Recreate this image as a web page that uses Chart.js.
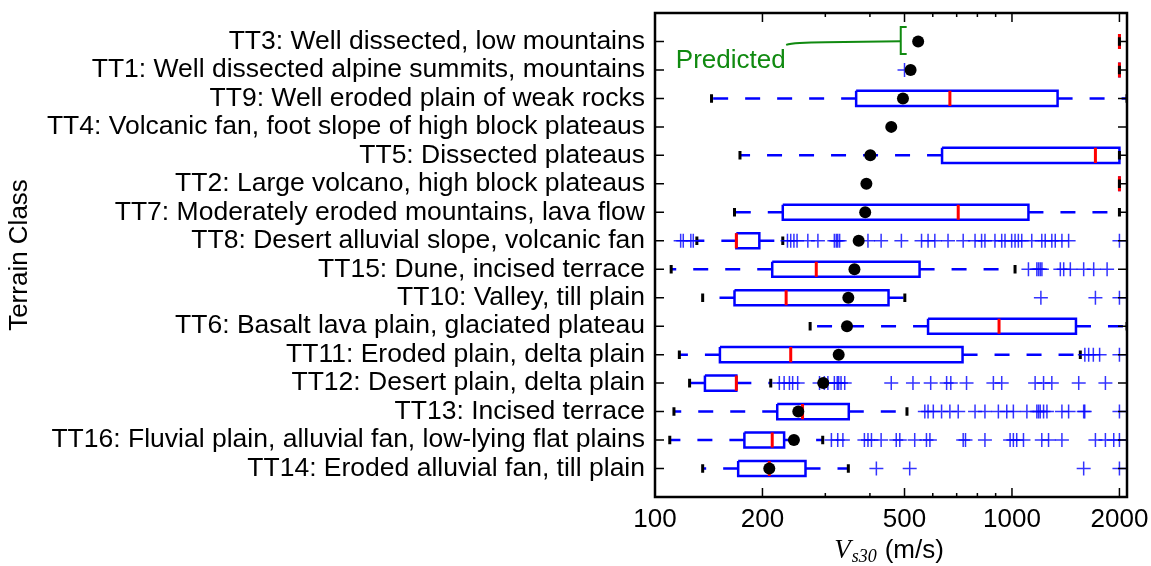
<!DOCTYPE html>
<html><head><meta charset="utf-8">
<script src="https://cdn.jsdelivr.net/npm/chart.js@4/dist/chart.umd.min.js"></script>
<style>html,body{margin:0;padding:0;background:#fff}#wrap{width:1151px;height:566px;position:relative}</style>
</head><body><div id="wrap"><canvas id="c" width="1151" height="566"></canvas></div>
<script>
// ---- data (top row first) ----
const categories = [
  "TT3: Well dissected, low mountains",
  "TT1: Well dissected alpine summits, mountains",
  "TT9: Well eroded plain of weak rocks",
  "TT4: Volcanic fan, foot slope of high block plateaus",
  "TT5: Dissected plateaus",
  "TT2: Large volcano, high block plateaus",
  "TT7: Moderately eroded mountains, lava flow",
  "TT8: Desert alluvial slope, volcanic fan",
  "TT15: Dune, incised terrace",
  "TT10: Valley, till plain",
  "TT6: Basalt lava plain, glaciated plateau",
  "TT11: Eroded plain, delta plain",
  "TT12: Desert plain, delta plain",
  "TT13: Incised terrace",
  "TT16: Fluvial plain, alluvial fan, low-lying flat plains",
  "TT14: Eroded alluvial fan, till plain"
];
const whiskerLow  = [2000, 2000, 144, null, 173, 2000, 167, 131, 111, 136, 272, 117, 125, 113, 110, 136];
const q1          = [2000, 2000, 366, null, 637, 2000, 228, 169, 213, 167, 582, 152, 138, 220, 178, 171];
const median      = [2000, 2000, 670, null, 1713, 2000, 707, 169, 283, 233, 920, 240, 169, 259, 213, 209];
const q3          = [2000, 2000, 1342, null, 2000, 2000, 1112, 196, 551, 451, 1511, 727, 169, 349, 230, 264];
const whiskerHigh = [2000, 2000, 2100, null, 2000, 2000, 2000, 228, 1020, 501, 2100, 1554, 211, 508, 295, 348];
const predicted   = [546, 520, 495, 459, 401, 391, 388, 372, 362, 348, 345, 327, 296, 252, 245, 209];
const outliers = [
  [],
  [500],
  [],
  [],
  [],
  [],
  [],
  [118, 120, 126, 128, 235, 240, 245, 250, 268, 286, 318, 322, 325, 329, 395, 430, 490, 558, 582, 608, 662, 730, 788, 822, 840, 896, 936, 956, 998, 1020, 1042, 1065, 1136, 1212, 1239, 1293, 1322, 1380, 1441, 2000],
  [1112, 1174, 1187, 1200, 1213, 1366, 1396, 1457, 1588, 1694, 1847],
  [1205, 1713, 2000],
  [],
  [1600, 1640, 1690, 1760, 2000],
  [223, 230, 238, 243, 251, 289, 298, 305, 318, 324, 327, 332, 340, 459, 528, 592, 656, 674, 746, 887, 936, 1161, 1226, 1293, 1538, 1827],
  [570, 582, 602, 635, 670, 707, 788, 840, 916, 967, 1009, 1101, 1174, 1187, 1200, 1226, 1253, 1380, 1441, 1588, 1599, 2000],
  [312, 325, 336, 386, 395, 404, 430, 474, 485, 534, 576, 589, 730, 741, 840, 988, 1009, 1031, 1077, 1212, 1266, 1380, 1713, 1827, 1928, 2000],
  [417, 517, 1588, 2000]
];
const xTickLabels = [100, 200, 500, 1000, 2000];
const xMinorTicks = [300, 400, 600, 700, 800, 900];
const xMin = 100, xMax = 2100;

// ---- build library datasets ----
const BH = 0.265, CH = 0.15;
const boxPts = [], whiskPts = [], medPts = [], capPts = [], outPts = [], predPts = [];
const gap = {x: 1000, y: NaN};
categories.forEach((c, i) => {
  if (q1[i] != null) {
    boxPts.push({x:q1[i],y:i-BH},{x:q3[i],y:i-BH},{x:q3[i],y:i+BH},{x:q1[i],y:i+BH},{x:q1[i],y:i-BH},gap);
    whiskPts.push({x:q1[i],y:i},{x:whiskerLow[i],y:i},gap,{x:q3[i],y:i},{x:whiskerHigh[i],y:i},gap);
    medPts.push({x:median[i],y:i-BH},{x:median[i],y:i+BH},gap);
    capPts.push({x:whiskerLow[i],y:i-CH},{x:whiskerLow[i],y:i+CH},gap,{x:whiskerHigh[i],y:i-CH},{x:whiskerHigh[i],y:i+CH},gap);
  }
  outliers[i].forEach(v => outPts.push({x:v, y:i}));
  predPts.push({x:predicted[i], y:i});
});

Chart.defaults.font.family = '"Liberation Sans", Arial, sans-serif';
Chart.defaults.color = '#000';

const noPad = s => { s.paddingTop = 0; s.paddingBottom = 0; s.paddingLeft = 0; s.paddingRight = 0; };

const frameTicks = {
  id: 'frameTicks',
  afterDraw(chart) {
    const {ctx, chartArea: a, scales: {x, y}} = chart;
    ctx.save();
    ctx.strokeStyle = '#000';
    ctx.lineWidth = 1.5;
    const tick = (v, len) => {
      const px = x.getPixelForValue(v);
      ctx.beginPath(); ctx.moveTo(px, a.bottom); ctx.lineTo(px, a.bottom - len);
      ctx.moveTo(px, a.top); ctx.lineTo(px, a.top + len); ctx.stroke();
    };
    xTickLabels.forEach(v => tick(v, 9));
    xMinorTicks.forEach(v => tick(v, 4));
    categories.forEach((c, i) => {
      const py = y.getPixelForValue(i);
      ctx.beginPath(); ctx.moveTo(a.left, py); ctx.lineTo(a.left + 9, py);
      ctx.moveTo(a.right, py); ctx.lineTo(a.right - 9, py); ctx.stroke();
    });
    ctx.lineWidth = 2.5;
    ctx.strokeRect(a.left, a.top, a.right - a.left, a.bottom - a.top);

    // x axis title: V_s30 (m/s)
    ctx.fillStyle = '#000';
    ctx.textBaseline = 'alphabetic';
    ctx.textAlign = 'left';
    const fV = 'italic 27px "Liberation Serif", serif';
    const fS = 'italic 18px "Liberation Serif", serif';
    const fU = '26px "Liberation Sans", Arial, sans-serif';
    ctx.font = fV; const wV = ctx.measureText('V').width;
    ctx.font = fS; const wS = ctx.measureText('s30').width;
    ctx.font = fU; const wU = ctx.measureText('(m/s)').width;
    const total = wV + 1 + wS + 8 + wU;
    let x0 = (a.left + a.right) / 2 - total / 2 - 2;
    const base = 558;
    ctx.font = fV; ctx.fillText('V', x0, base); x0 += wV + 1;
    ctx.font = fS; ctx.fillText('s30', x0, base + 4); x0 += wS + 8;
    ctx.font = fU; ctx.fillText('(m/s)', x0, base);

    // "Predicted" annotation
    const green = '#108a10';
    ctx.strokeStyle = green; ctx.fillStyle = green; ctx.lineWidth = 2;
    const xb = x.getPixelForValue(488), xt = x.getPixelForValue(507);
    const yb1 = y.getPixelForValue(-0.51), yb2 = y.getPixelForValue(0.44), ym = y.getPixelForValue(-0.01);
    ctx.beginPath();
    ctx.moveTo(xt, yb1); ctx.lineTo(xb, yb1); ctx.lineTo(xb, yb2); ctx.lineTo(xt, yb2);
    ctx.stroke();
    const xe = x.getPixelForValue(233), ye = y.getPixelForValue(0.12);
    ctx.beginPath();
    ctx.moveTo(xb, ym);
    ctx.lineTo(x.getPixelForValue(300), ym + 1);
    ctx.quadraticCurveTo(x.getPixelForValue(245), ym + 1, xe, ye);
    ctx.stroke();
    ctx.font = fU; ctx.textBaseline = 'middle';
    ctx.fillText('Predicted', x.getPixelForValue(114.4), y.getPixelForValue(0.67));
    ctx.restore();
  }
};

new Chart(document.getElementById('c'), {
  type: 'scatter',
  data: {
    datasets: [
      {label: 'Predicted', data: predPts, order: 0, pointStyle: 'circle', pointRadius: 6, backgroundColor: '#000', borderWidth: 0},
      {label: 'Outliers', data: outPts, order: 1, pointStyle: 'cross', pointRadius: 7, borderColor: 'rgba(0,0,255,0.8)', borderWidth: 1.5},
      {label: 'Caps', data: capPts, order: 2, showLine: true, spanGaps: false, pointRadius: 0, borderColor: '#000', borderWidth: 3},
      {label: 'Median', data: medPts, order: 3, showLine: true, spanGaps: false, pointRadius: 0, borderColor: '#ff0000', borderWidth: 3},
      {label: 'Box', data: boxPts, order: 4, showLine: true, spanGaps: false, pointRadius: 0, borderColor: '#0000ff', borderWidth: 2.5},
      {label: 'Whiskers', data: whiskPts, order: 5, showLine: true, spanGaps: false, pointRadius: 0, borderColor: '#0000ff', borderWidth: 2.5, borderDash: [15, 17]}
    ]
  },
  options: {
    responsive: false,
    devicePixelRatio: 1,
    animation: false,
    layout: {padding: {top: 13, right: 24, bottom: 0, left: 0}},
    plugins: {legend: {display: false}, tooltip: {enabled: false}},
    scales: {
      x: {
        type: 'logarithmic', min: xMin, max: xMax, position: 'bottom',
        grid: {display: false, drawTicks: false}, border: {display: false},
        afterBuildTicks: s => { s.ticks = xTickLabels.map(v => ({value: v})); },
        afterFit: s => { s.height = 69; noPad(s); },
        ticks: {autoSkip: false, maxRotation: 0, padding: 7, font: {size: 26}, callback: v => String(v)}
      },
      y: {
        type: 'linear', min: -1, max: 16, reverse: true,
        grid: {display: false, drawTicks: false}, border: {display: false},
        afterBuildTicks: s => { s.ticks = categories.map((c, i) => ({value: i})); },
        afterFit: s => { s.width = 655; noPad(s); },
        ticks: {autoSkip: false, padding: 10, font: {size: 26.5}, callback: v => categories[v]},
        title: {display: true, text: 'Terrain Class', font: {size: 26}, padding: {top: 4, bottom: 0}}
      }
    }
  },
  plugins: [frameTicks]
});
</script></body></html>
